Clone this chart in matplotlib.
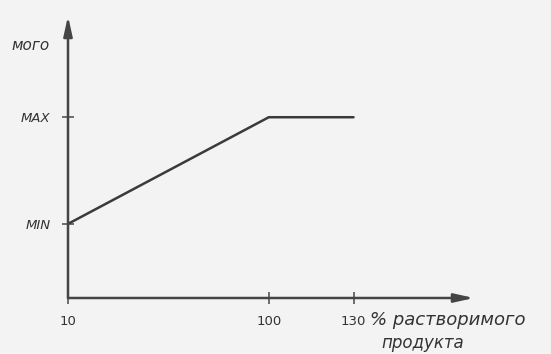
import numpy as np
import matplotlib.pyplot as plt

# ключевые точки графика
x_vals = [10, 100, 130]
y_vals = [0.41, 1.0, 1.0]
x_ticks = [10, 100, 130]
x_tick_labels = ['10', '100', '130']
y_ticks = [0.41, 1.0]
y_tick_labels = ['MIN', 'MAX']

# ось X неравномерная: участок 100-130 растянут
xp = [-990, 10, 100, 130, 1130]
fp = [-1000, 0, 90, 128, 128 + 1000 * 38 / 30]

def fwd(x):
    return np.interp(x, xp, fp)

def inv(t):
    return np.interp(t, fp, xp)

ink = '#3a3a3a'
bg = '#f3f3f3'

fig = plt.figure(figsize=(5.51, 3.54), dpi=100, facecolor=bg)
ax = fig.add_axes([68 / 551, 56 / 354, 406 / 551, 282 / 354])
ax.set_facecolor(bg)
ax.set_xscale('function', functions=(fwd, inv))

ax.plot(x_vals, y_vals, color=ink, lw=1.8, solid_capstyle='round')

ax.set_xlim(10, inv(182))
ax.set_ylim(0, 1.56)

for s in ax.spines.values():
    s.set_visible(False)

# оси со стрелками
arrow = dict(arrowstyle='-|>,head_length=0.9,head_width=0.2', color='#454545',
             lw=1.8, mutation_scale=13, shrinkA=0, shrinkB=0)
ax.annotate('', xy=(1, 0), xytext=(0, 0), xycoords='axes fraction', arrowprops=arrow)
ax.annotate('', xy=(0, 1), xytext=(0, 0), xycoords='axes fraction', arrowprops=arrow)

ax.set_xticks(x_ticks)
ax.set_xticklabels(x_tick_labels, fontsize=9.5, color='#333333')
ax.set_yticks(y_ticks)
ax.set_yticklabels(y_tick_labels, fontsize=9.5, style='italic', color='#333333')
ax.tick_params(axis='x', direction='inout', length=9, width=1.2, color='#555555', pad=8)
ax.tick_params(axis='y', direction='inout', length=9, width=1.2, color='#555555', pad=8)
ax.minorticks_off()

ax.text(370 / 551, 1 - 320 / 354, '% растворимого', transform=fig.transFigure,
        fontsize=13, style='italic', color='#333333', ha='left', va='center')
ax.text(423 / 551, 1 - 343 / 354, 'продукта', transform=fig.transFigure,
        fontsize=12, style='italic', color='#333333', ha='center', va='center')
fig.text(50 / 551, 1 - 45 / 354, 'мого', fontsize=11, style='italic',
         color='#333333', ha='right', va='center')

fig.savefig('out.png', dpi=100, facecolor=bg)
